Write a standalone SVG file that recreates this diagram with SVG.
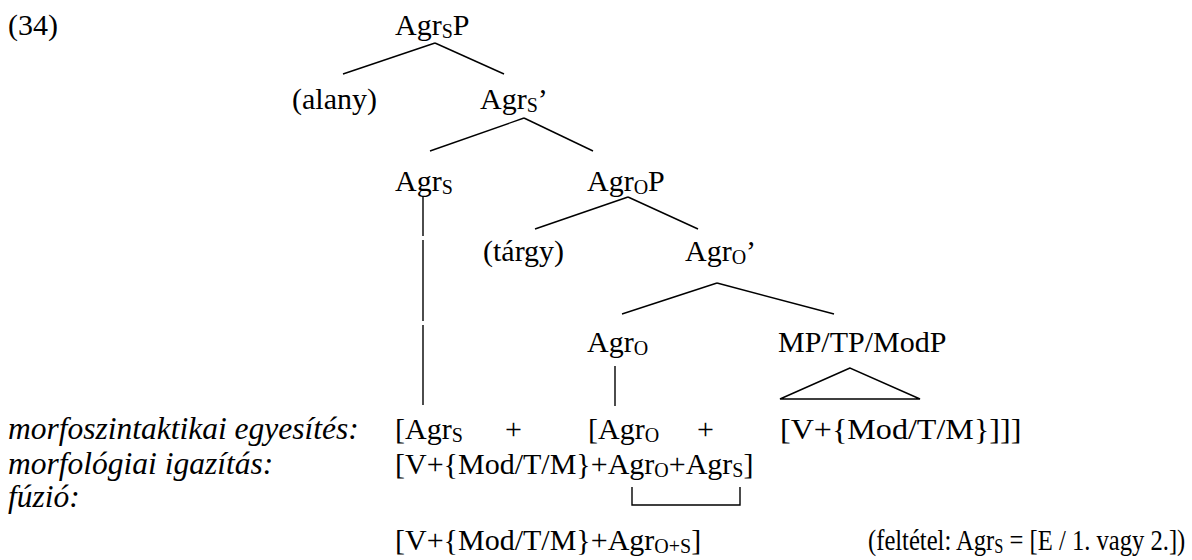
<svg xmlns="http://www.w3.org/2000/svg" width="1192" height="560" viewBox="0 0 1192 560">
<style>
text{font-family:"Liberation Serif","Times New Roman",serif;font-size:30px;fill:#000}
.it{font-style:italic;font-size:31.5px}
.sub{font-size:20px}
.ln{stroke:#000;stroke-width:1.4;fill:none}
</style>
<rect width="1192" height="560" fill="#fff"/>
<text x="8" y="35">(34)</text>
<g id="n-agrsp"><text x="395" y="35">Agr<tspan class="sub" dy="3">S</tspan><tspan dy="-3">P</tspan></text></g>
<g id="n-alany"><text x="292" y="109">(alany)</text></g>
<g id="n-agrs-bar"><text x="480" y="109">Agr<tspan class="sub" dy="3">S</tspan><tspan dy="-3">’</tspan></text></g>
<g id="n-agrs"><text x="395" y="191">Agr<tspan class="sub" dy="3">S</tspan></text></g>
<g id="n-agrop"><text x="587" y="191">Agr<tspan class="sub" dy="3">O</tspan><tspan dy="-3">P</tspan></text></g>
<g id="n-targy"><text x="483" y="261">(tárgy)</text></g>
<g id="n-agro-bar"><text x="685" y="261">Agr<tspan class="sub" dy="3">O</tspan><tspan dy="-3">’</tspan></text></g>
<g id="n-agro"><text x="587" y="352">Agr<tspan class="sub" dy="3">O</tspan></text></g>
<g id="n-mp"><text x="778" y="352">MP/TP/ModP</text><polygon class="ln" points="850,368 780,399 920,399"/></g>
<g id="connectors">
<line class="ln" x1="435" y1="43" x2="343" y2="74"/>
<line class="ln" x1="435" y1="43" x2="504" y2="74"/>
<line class="ln" x1="524" y1="118" x2="430" y2="151"/>
<line class="ln" x1="524" y1="118" x2="593" y2="151"/>
<line class="ln" x1="628" y1="197" x2="535" y2="229"/>
<line class="ln" x1="628" y1="197" x2="698" y2="229"/>
<line class="ln" x1="717" y1="283" x2="622" y2="314"/>
<line class="ln" x1="717" y1="283" x2="834" y2="314"/>
<line class="ln" x1="423" y1="197" x2="423" y2="236"/>
<line class="ln" x1="423" y1="240" x2="423" y2="321"/>
<line class="ln" x1="423" y1="325" x2="423" y2="405"/>
<line class="ln" x1="615" y1="366" x2="615" y2="406"/>
<polyline class="ln" points="632,487 632,505 740,505 740,487"/>
</g>
<g id="rows">
<text class="it" x="8" y="439">morfoszintaktikai egyesítés:</text>
<text x="395" y="439">[Agr<tspan class="sub" dy="3">S</tspan></text>
<text x="505" y="439">+</text>
<text x="588" y="439">[Agr<tspan class="sub" dy="3">O</tspan></text>
<text x="697" y="439">+</text>
<g transform="translate(780,439) scale(1.07,1)"><text x="0" y="0">[V+{Mod/T/M}]]]</text></g>
<text class="it" x="8" y="474">morfológiai igazítás:</text>
<text x="395" y="474">[V+{Mod/T/M}+Agr<tspan class="sub" dy="3">O</tspan><tspan dy="-3">+Agr</tspan><tspan class="sub" dy="3">S</tspan><tspan dy="-3">]</tspan></text>
<text class="it" x="8" y="507">fúzió:</text>
<text x="395" y="550">[V+{Mod/T/M}+Agr<tspan class="sub" dy="3">O+S</tspan><tspan dy="-3">]</tspan></text>
<g transform="translate(868,550) scale(0.82,1)"><text x="0" y="0">(feltétel: Agr<tspan class="sub" dy="3">S</tspan><tspan dy="-3"> = [E / 1. vagy 2.])</tspan></text></g>
</g>
</svg>
